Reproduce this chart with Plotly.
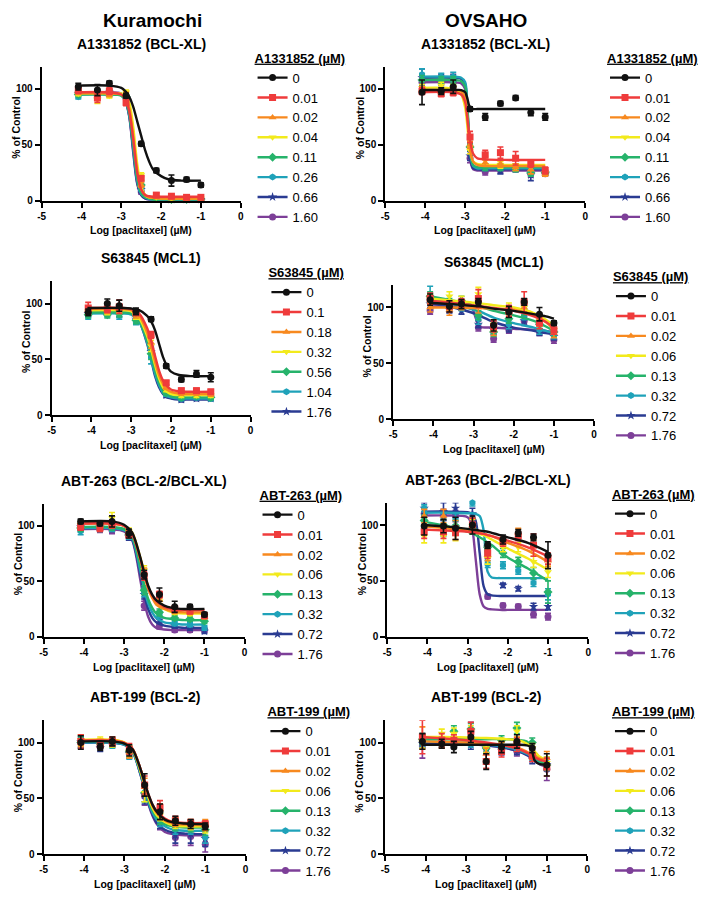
import plotly.graph_objects as go

# the page body keeps the browser's default 8px margin, so the figure is
# made 8px smaller and every pixel position below is given in page pixels
OFF = 8
FIG_W, FIG_H = 700, 892
FONT = 'Liberation Sans, Arial, sans-serif'


def px(x):
    return (x - OFF) / FIG_W


def py(y):
    return 1 - (y - OFF) / FIG_H


# log10 paclitaxel concentration (uM) of the measured points
LOG_PTX = [-4.08, -3.6, -3.3, -2.88, -2.5, -2.12, -1.74, -1.36, -1.0]

X_TICKS = [-5, -4, -3, -2, -1, 0]
X_TICK_LABELS = ['-5', '-4', '-3', '-2', '-1', '0']
Y_TICKS = [0, 50, 100]
Y_TICK_LABELS = ['0', '50', '100']

COLORS = ['#111111', '#ef3b3b', '#f7891f', '#f2ea1c', '#26b36b', '#1fa2b9', '#2a3b92', '#7d3f98']
SYMBOLS = ['circle', 'square', 'triangle-up', 'triangle-down', 'diamond', 'hexagon', 'star', 'circle']

# ---------------- Kuramochi / A1331852 ----------------
k_a13_doses = ['0', '0.01', '0.02', '0.04', '0.11', '0.26', '0.66', '1.60']
k_a13_mean = [
    [102, 99, 105, 94, 51, 27, 18, 19, 14],
    [99, 92, 98, 88, 20, 5, 4, 3, 3],
    [97, 94, 95, 95, 14, 3, 2, 2, 2],
    [96, 90, 94, 97, 23, 3, 2, 2, 2],
    [95, 95, 96, 93, 14, 2, 1, 1, 1],
    [93, 97, 95, 92, 11, 2, 1, 1, 1],
    [96, 96, 97, 92, 10, 2, 1, 1, 1],
    [98, 97, 97, 92, 8, 2, 1, 1, 1],
]
k_a13_sd = [
    [3, 5, 2, 2, 2, 2, 5, 2, 2],
    [3, 4, 3, 3, 2, 2, 1, 1, 1],
    [2, 3, 2, 2, 2, 1, 1, 1, 1],
    [2, 3, 2, 2, 2, 1, 1, 1, 1],
    [2, 2, 2, 2, 2, 1, 1, 1, 1],
    [2, 2, 2, 2, 2, 1, 1, 1, 1],
    [2, 2, 2, 2, 2, 1, 1, 1, 1],
    [2, 2, 2, 2, 2, 1, 1, 1, 1],
]
k_a13_fit_x = [-4.1, -3.3, -3.0, -2.9, -2.8, -2.7, -2.6, -2.5, -2.4, -2.3, -2.2, -2.0, -1.8, -1.5, -1.0]
k_a13_fit_y = [
    [103, 103, 101, 98, 93, 84, 71, 58, 45, 35, 28, 22, 19, 18, 18],
    [97, 97, 95, 91, 80, 55, 25, 10, 5, 4, 3.5, 3.5, 3.5, 3.5, 3.5],
    [96, 96, 95, 92, 83, 58, 27, 10, 5, 3, 2.5, 2, 2, 2, 2],
    [96, 96, 96, 94, 88, 66, 33, 13, 5, 3, 2.5, 2, 2, 2, 2],
    [95, 95, 94, 90, 78, 50, 20, 7, 3, 2, 1, 1, 1, 1, 1],
    [95, 95, 94, 90, 77, 48, 18, 6, 3, 1.5, 1, 1, 1, 1, 1],
    [96, 96, 95, 90, 76, 45, 16, 5, 2, 1, 1, 1, 1, 1, 1],
    [97, 97, 96, 90, 75, 43, 15, 5, 2, 1, 1, 1, 1, 1, 1],
]

# ---------------- OVSAHO / A1331852 ----------------
o_a13_doses = ['0', '0.01', '0.02', '0.04', '0.11', '0.26', '0.66', '1.60']
o_a13_mean = [
    [97, 98, 102, 82, 75, 87, 92, 79, 75],
    [98, 96, 97, 57, 41, 43, 38, 33, 27],
    [99, 97, 99, 50, 34, 33, 30, 28, 24],
    [101, 103, 101, 45, 36, 32, 30, 30, 25],
    [108, 108, 108, 48, 30, 30, 29, 25, 25],
    [113, 111, 111, 50, 30, 30, 30, 26, 25],
    [110, 110, 110, 40, 30, 27, 29, 23, 25],
    [106, 106, 106, 38, 26, 28, 29, 24, 24],
]
o_a13_sd = [
    [11, 3, 6, 2, 3, 2, 2, 3, 3],
    [3, 3, 3, 5, 4, 5, 6, 3, 3],
    [3, 3, 3, 3, 3, 3, 3, 4, 2],
    [3, 3, 3, 3, 4, 3, 3, 3, 2],
    [4, 3, 3, 3, 3, 3, 3, 3, 2],
    [5, 3, 4, 3, 3, 3, 3, 3, 2],
    [8, 3, 3, 4, 3, 3, 3, 5, 2],
    [3, 3, 3, 4, 3, 3, 3, 3, 2],
]
o_a13_fit_x = [-4.1, -3.3, -3.1, -3.0, -2.95, -2.9, -2.85, -2.8, -2.7, -2.5, -2.0, -1.0]
o_a13_fit_y = [
    [99, 99, 99, 97, 92, 85, 82.5, 82, 82, 82, 82, 82],
    [97, 97, 95, 88, 75, 60, 48, 42, 38, 37, 36.5, 36.5],
    [99, 99, 98, 92, 75, 52, 40, 35, 32, 31, 31, 31],
    [101, 100, 95, 83, 68, 50, 40, 35, 33, 32, 32, 32],
    [108, 108, 107, 102, 85, 55, 38, 32, 30, 30, 30, 30],
    [111, 111, 110, 106, 88, 55, 37, 31, 29, 29, 29, 29],
    [110, 110, 109, 104, 85, 50, 34, 29, 28, 28, 28, 28],
    [106, 106, 105, 100, 82, 48, 32, 28, 27, 27, 27, 27],
]

# ---------------- Kuramochi / S63845 ----------------
k_s63_doses = ['0', '0.1', '0.18', '0.32', '0.56', '1.04', '1.76']
k_s63_mean = [
    [92, 100, 98, 93, 86, 44, 32, 37, 34],
    [96, 95, 97, 92, 72, 29, 22, 22, 21],
    [94, 94, 95, 90, 65, 25, 20, 20, 19],
    [93, 93, 94, 89, 62, 23, 18, 18, 18],
    [90, 90, 91, 85, 55, 20, 16, 17, 16],
    [89, 91, 89, 84, 52, 19, 15, 16, 15],
    [91, 92, 91, 86, 57, 18, 14, 15, 15],
]
k_s63_sd = [
    [3, 4, 5, 3, 2, 2, 2, 3, 4],
    [5, 3, 6, 3, 3, 2, 2, 2, 2],
    [3, 3, 3, 3, 5, 2, 2, 2, 2],
    [3, 3, 3, 3, 5, 2, 2, 2, 2],
    [3, 3, 3, 3, 5, 2, 2, 2, 2],
    [3, 3, 3, 3, 6, 2, 2, 2, 2],
    [3, 3, 3, 3, 5, 2, 2, 2, 2],
]
k_s63_fit_x = [-4.1, -3.2, -3.0, -2.8, -2.6, -2.5, -2.4, -2.3, -2.2, -2.1, -2.0, -1.8, -1.5, -1.0]
k_s63_fit_y = [
    [96, 96, 95.5, 94, 89, 84, 76, 64, 52, 44, 39, 36, 35, 35],
    [96, 96, 95, 91, 78, 67, 53, 40, 31, 26, 23, 21.5, 21, 21],
    [95, 95, 94, 89, 74, 62, 48, 36, 28, 23, 21, 19.5, 19, 19],
    [94, 94, 93, 87, 71, 59, 45, 33, 25, 21, 19, 18, 18, 18],
    [92, 92, 91, 85, 67, 54, 40, 29, 22, 19, 17, 16, 16, 16],
    [91, 91, 90, 84, 65, 51, 37, 27, 20, 17, 16, 15, 15, 15],
    [92, 92, 91, 84, 64, 50, 35, 25, 19, 16, 15, 14, 14, 14],
]

# ---------------- OVSAHO / S63845 ----------------
o_s63_doses = ['0', '0.01', '0.02', '0.06', '0.13', '0.32', '0.72', '1.76']
o_s63_mean = [
    [107, 101, 103, 105, 84, 96, 105, 94, 86],
    [108, 101, 104, 108, 83, 97, 105, 86, 80],
    [100, 98, 102, 100, 80, 96, 100, 87, 77],
    [108, 110, 106, 112, 85, 100, 100, 88, 80],
    [110, 104, 106, 93, 78, 90, 97, 85, 78],
    [112, 100, 101, 90, 80, 85, 93, 80, 76],
    [103, 98, 97, 85, 80, 82, 88, 78, 74],
    [97, 100, 101, 82, 72, 80, 88, 78, 71],
]
o_s63_sd = [
    [5, 5, 4, 3, 5, 5, 3, 6, 2],
    [5, 5, 4, 8, 5, 5, 9, 5, 4],
    [4, 5, 4, 5, 5, 4, 4, 4, 4],
    [4, 4, 4, 6, 4, 4, 4, 4, 4],
    [4, 4, 4, 4, 4, 4, 4, 4, 4],
    [7, 4, 4, 5, 4, 4, 4, 4, 4],
    [4, 3, 3, 3, 4, 4, 4, 3, 3],
    [3, 3, 3, 3, 3, 3, 3, 3, 3],
]
o_s63_fit_x = [-4.1, -3.5, -3.05, -2.95, -2.85, -2.5, -2.0, -1.5, -1.2, -1.0]
o_s63_fit_y = [
    [104, 103, 101.5, 101.2, 101, 99, 97, 94, 92, 90],
    [106, 104, 102, 101.7, 101.4, 99.5, 97, 92, 87, 82],
    [100, 100, 99.5, 99.5, 99.5, 99, 98, 93, 87, 80],
    [108, 106, 104.5, 104, 103.7, 102, 100, 95, 89, 84],
    [110, 106, 102.5, 101.5, 100.5, 97, 93, 88, 83, 79],
    [108, 103, 98.5, 97.5, 96.5, 91, 86, 82, 79, 77],
    [104, 100, 95.5, 94, 92.5, 87, 82, 79, 77, 76],
    [101, 101, 100, 91, 83, 82, 81, 80, 79, 78],
]

# ---------------- Kuramochi / ABT-263 ----------------
k_263_doses = ['0', '0.01', '0.02', '0.06', '0.13', '0.32', '0.72', '1.76']
k_263_mean = [
    [104, 102, 104, 93, 56, 38, 27, 27, 20],
    [99, 98, 101, 92, 55, 38, 25, 23, 19],
    [100, 100, 101, 93, 58, 33, 23, 22, 18],
    [101, 100, 107, 95, 60, 32, 22, 21, 19],
    [98, 98, 99, 92, 42, 22, 17, 16, 14],
    [95, 99, 98, 91, 40, 20, 12, 11, 8],
    [99, 99, 98, 90, 38, 15, 10, 8, 5],
    [98, 97, 96, 90, 28, 10, 6, 6, 6],
]
k_263_sd = [
    [2, 2, 5, 4, 4, 6, 5, 2, 2],
    [3, 3, 3, 3, 4, 3, 2, 2, 2],
    [3, 3, 3, 3, 4, 3, 2, 2, 2],
    [3, 3, 5, 3, 4, 3, 2, 2, 2],
    [3, 3, 3, 3, 4, 3, 2, 2, 2],
    [3, 3, 3, 3, 4, 3, 2, 2, 2],
    [3, 3, 3, 3, 4, 3, 2, 2, 2],
    [3, 3, 3, 3, 4, 3, 2, 2, 2],
]
k_263_fit_x = [-4.1, -3.3, -3.0, -2.8, -2.6, -2.5, -2.4, -2.3, -2.2, -2.0, -1.8, -1.5, -1.0]
k_263_fit_y = [
    [104, 104, 101, 94, 72, 58, 46, 38, 33, 28, 26, 25, 25],
    [102, 102, 100, 93, 71, 57, 45, 37, 32, 27, 25, 24, 24],
    [102, 102, 100, 93, 70, 56, 43, 35, 29, 25, 23, 22, 22],
    [102, 102, 100, 94, 72, 58, 45, 36, 30, 25, 22, 21, 21],
    [99, 99, 97, 90, 64, 47, 34, 26, 21, 17, 16, 15, 15],
    [98, 98, 96, 89, 60, 43, 30, 22, 17, 13, 12, 11, 11],
    [98, 98, 96, 88, 57, 38, 25, 17, 13, 10, 9, 8, 8],
    [97, 97, 95, 87, 52, 32, 18, 11, 8, 6.5, 6, 6, 6],
]

# ---------------- OVSAHO / ABT-263 ----------------
o_263_doses = ['0', '0.01', '0.02', '0.06', '0.13', '0.32', '0.72', '1.76']
o_263_mean = [
    [99, 99, 97, 100, 82, 87, 93, 89, 73],
    [94, 94, 93, 100, 75, 85, 90, 82, 70],
    [108, 108, 98, 100, 73, 85, 93, 82, 68],
    [90, 90, 92, 99, 70, 80, 80, 67, 58],
    [104, 100, 99, 97, 80, 75, 67, 57, 40],
    [115, 100, 105, 120, 65, 64, 59, 48, 38],
    [115, 112, 115, 110, 80, 46, 43, 27, 27],
    [110, 109, 108, 105, 36, 28, 27, 20, 18],
]
o_263_sd = [
    [8, 6, 10, 8, 3, 4, 3, 3, 12],
    [6, 6, 6, 6, 5, 4, 4, 10, 5],
    [6, 6, 6, 6, 5, 4, 4, 5, 5],
    [6, 6, 6, 6, 5, 4, 4, 5, 5],
    [5, 5, 5, 5, 4, 4, 4, 5, 10],
    [3, 10, 5, 3, 3, 3, 3, 3, 5],
    [5, 8, 5, 5, 3, 2, 2, 3, 3],
    [5, 5, 5, 5, 2, 2, 2, 3, 3],
]
o_263_fit_x = [-4.1, -3.5, -3.0, -2.9, -2.8, -2.7, -2.6, -2.5, -2.4, -2.2, -2.0, -1.5, -1.0]
o_263_fit_y = [
    [100, 98.5, 96.5, 96, 95.5, 95, 94.5, 94, 93, 91, 89, 84, 76],
    [96, 95, 94, 93.5, 93, 92.5, 92, 91, 90, 88, 86, 80, 72],
    [99, 97, 95, 94.5, 94, 93, 92, 91, 90, 87, 84, 77, 67],
    [99, 97, 94.5, 94, 93, 92, 91, 89, 87, 83, 79, 70, 60],
    [103, 99, 94, 93, 91, 89, 87, 84, 82, 76, 71, 61, 50],
    [111, 111, 110.5, 110.5, 110, 108, 95, 58, 53, 52.5, 52.5, 52.5, 52.5],
    [112, 112, 111.5, 110, 104, 75, 45, 38, 37, 36.5, 36.5, 36.5, 36.5],
    [108.5, 108.5, 107, 100, 70, 38, 27, 25, 24.5, 24, 24, 24, 24],
]

# ---------------- Kuramochi / ABT-199 ----------------
k_199_doses = ['0', '0.01', '0.02', '0.06', '0.13', '0.32', '0.72', '1.76']
k_199_mean = [
    [100, 96, 101, 93, 62, 38, 30, 27, 25],
    [101, 98, 101, 94, 62, 42, 30, 28, 27],
    [102, 100, 101, 91, 60, 40, 29, 27, 26],
    [102, 102, 100, 92, 55, 35, 27, 26, 24],
    [100, 99, 100, 92, 55, 32, 25, 24, 22],
    [100, 98, 99, 90, 55, 30, 22, 22, 15],
    [101, 95, 100, 90, 53, 28, 17, 18, 14],
    [100, 97, 99, 91, 52, 27, 15, 16, 9],
]
k_199_sd = [
    [6, 3, 4, 5, 10, 7, 4, 4, 3],
    [6, 3, 4, 5, 8, 6, 4, 3, 3],
    [5, 3, 4, 5, 8, 5, 4, 4, 5],
    [5, 3, 4, 5, 8, 5, 4, 4, 5],
    [5, 3, 4, 5, 8, 5, 4, 4, 5],
    [5, 3, 4, 5, 8, 5, 4, 4, 5],
    [5, 3, 3, 4, 8, 5, 7, 8, 7],
    [5, 3, 3, 4, 8, 5, 7, 8, 7],
]
k_199_fit_x = [-4.1, -3.3, -3.0, -2.8, -2.6, -2.5, -2.4, -2.3, -2.2, -2.0, -1.8, -1.5, -1.0]
k_199_fit_y = [
    [101, 101, 99, 94, 76, 64, 53, 44, 38, 31, 28.5, 27.5, 27],
    [101.5, 101.5, 99.5, 94.5, 76, 64, 53, 44, 38, 32, 29, 28, 28],
    [102, 102, 100, 94.5, 76, 64, 52, 43, 37, 30, 27.5, 26.5, 26],
    [102.5, 102.5, 100, 94, 74, 62, 50, 41, 35, 29, 26, 25, 25],
    [101, 101, 99, 93, 73, 60, 48, 39, 33, 27, 25, 24, 24],
    [100, 100, 98, 92, 72, 59, 46, 37, 31, 25, 22, 21, 21],
    [100, 100, 98, 92, 71, 58, 45, 35, 28, 22, 19.5, 18.5, 18],
    [100, 100, 98, 92, 71, 57, 44, 34, 27, 20, 18, 17, 17],
]

# ---------------- OVSAHO / ABT-199 ----------------
o_199_doses = ['0', '0.01', '0.02', '0.06', '0.13', '0.32', '0.72', '1.76']
o_199_mean = [
    [101, 99, 96, 105, 83, 96, 101, 95, 80],
    [105, 102, 102, 110, 83, 92, 98, 88, 78],
    [104, 100, 102, 105, 90, 95, 100, 90, 86],
    [100, 108, 108, 110, 95, 100, 110, 95, 82],
    [103, 100, 110, 112, 95, 102, 113, 100, 80],
    [100, 100, 100, 100, 95, 96, 97, 88, 82],
    [99, 100, 99, 98, 95, 93, 93, 85, 80],
    [97, 99, 100, 110, 95, 93, 92, 87, 76],
]
o_199_sd = [
    [7, 4, 5, 5, 7, 5, 6, 4, 10],
    [15, 6, 5, 8, 6, 5, 6, 5, 8],
    [10, 5, 5, 5, 5, 5, 5, 5, 6],
    [5, 4, 5, 5, 4, 4, 5, 4, 5],
    [5, 4, 5, 5, 4, 4, 5, 4, 5],
    [4, 4, 4, 4, 4, 4, 4, 4, 5],
    [4, 4, 4, 4, 4, 4, 4, 4, 5],
    [11, 4, 5, 8, 4, 4, 4, 4, 10],
]
o_199_fit_x = [-4.1, -3.5, -3.0, -2.5, -2.0, -1.7, -1.5, -1.4, -1.3, -1.2, -1.0]
o_199_fit_y = [
    [98, 98, 98, 98, 98, 98, 97.5, 96, 84, 81, 80],
    [105, 103.5, 102, 100, 97, 94, 91, 89, 87, 85, 83],
    [101, 100.5, 100, 99, 97, 95, 92, 90, 88, 86, 84],
    [105, 105, 104.5, 104, 103, 102, 99, 96, 92, 88, 84],
    [103, 103, 103, 103, 103, 102.5, 101, 97, 90, 84, 80],
    [101, 100.5, 100, 98.5, 96, 93, 90, 88, 86, 83, 80],
    [99, 99, 98.5, 97.5, 95, 92, 89, 87, 85, 83, 80],
    [100, 99.5, 99, 97.5, 95, 92, 89, 87, 84, 81, 78],
]

# panel layout in page pixels: plot box (x0, x1, ytop, ybottom) and legend top-left
panels = [
    dict(title='A1331852 (BCL-XL)', drug='A1331852', doses=k_a13_doses, mean=k_a13_mean, sd=k_a13_sd,
         fit_x=k_a13_fit_x, fit_y=k_a13_fit_y, box=(38, 239, 67, 202), leg=(251, 46)),
    dict(title='A1331852 (BCL-XL)', drug='A1331852', doses=o_a13_doses, mean=o_a13_mean, sd=o_a13_sd,
         fit_x=o_a13_fit_x, fit_y=o_a13_fit_y, box=(385, 587, 67, 202), leg=(607, 46)),
    dict(title='S63845 (MCL1)', drug='S63845', doses=k_s63_doses, mean=k_s63_mean, sd=k_s63_sd,
         fit_x=k_s63_fit_x, fit_y=k_s63_fit_y, box=(48, 249, 283, 418), leg=(265, 262)),
    dict(title='S63845 (MCL1)', drug='S63845', doses=o_s63_doses, mean=o_s63_mean, sd=o_s63_sd,
         fit_x=o_s63_fit_x, fit_y=o_s63_fit_y, box=(393, 596, 287, 422), leg=(613, 266)),
    dict(title='ABT-263 (BCL-2/BCL-XL)', drug='ABT-263', doses=k_263_doses, mean=k_263_mean, sd=k_263_sd,
         fit_x=k_263_fit_x, fit_y=k_263_fit_y, box=(40, 243, 507, 641), leg=(256, 486)),
    dict(title='ABT-263 (BCL-2/BCL-XL)', drug='ABT-263', doses=o_263_doses, mean=o_263_mean, sd=o_263_sd,
         fit_x=o_263_fit_x, fit_y=o_263_fit_y, box=(387, 590, 506, 641), leg=(612, 485)),
    dict(title='ABT-199 (BCL-2)', drug='ABT-199', doses=k_199_doses, mean=k_199_mean, sd=k_199_sd,
         fit_x=k_199_fit_x, fit_y=k_199_fit_y, box=(40, 244, 725, 860), leg=(264, 704)),
    dict(title='ABT-199 (BCL-2)', drug='ABT-199', doses=o_199_doses, mean=o_199_mean, sd=o_199_sd,
         fit_x=o_199_fit_x, fit_y=o_199_fit_y, box=(385, 589, 725, 860), leg=(612, 704)),
]

fig = go.Figure()
layout = dict(
    width=FIG_W, height=FIG_H,
    margin=dict(l=0, r=0, t=0, b=0),
    paper_bgcolor='white', plot_bgcolor='white',
    font=dict(family=FONT, color='black'),
    annotations=[],
)


def label(text, x, y, size, angle=0):
    return dict(text=text, x=px(x), y=py(y), xref='paper', yref='paper', showarrow=False,
                xanchor='center', yanchor='middle', textangle=angle,
                font=dict(size=size, weight='bold'))


for k, p in enumerate(panels, start=1):
    sfx = '' if k == 1 else str(k)
    xa, ya = 'x' + sfx, 'y' + sfx
    leg = 'legend' + sfx
    x0, x1, yt, yb = p['box']

    axis_style = dict(
        showline=True, linewidth=2, linecolor='black',
        ticks='outside', ticklen=5, tickwidth=2, tickcolor='black',
        showgrid=False, zeroline=False, fixedrange=True,
        tickfont=dict(size=10, weight='bold'),
    )
    layout['xaxis' + sfx] = dict(domain=[px(x0), px(x1)], anchor=ya, range=[-5, 0],
                                 tickvals=X_TICKS, ticktext=X_TICK_LABELS, **axis_style)
    layout['yaxis' + sfx] = dict(domain=[py(yb), py(yt)], anchor=xa, range=[0, 120],
                                 tickvals=Y_TICKS, ticktext=Y_TICK_LABELS, **axis_style)
    lx, ly = p['leg']
    layout[leg] = dict(
        x=px(lx), y=py(ly), xanchor='left', yanchor='top',
        bgcolor='rgba(0,0,0,0)', borderwidth=0, tracegroupgap=0,
        font=dict(size=13),
        title=dict(text='<u>' + p['drug'] + ' (µM)</u>', font=dict(size=13, weight='bold')),
    )

    cx = (x0 + x1) / 2
    layout['annotations'] += [
        label(p['title'], cx, yt - 23, 14),
        label('Log [paclitaxel] (µM)', cx, yb + 30, 10.5),
        label('% of Control', x0 - 26, (yt + yb) / 2 - 6, 10.5, angle=-90),
    ]

    n = len(p['doses'])
    # highest dose first so the control series ends up on top
    for i in reversed(range(n)):
        c, s = COLORS[i], SYMBOLS[i]
        fig.add_trace(go.Scatter(
            x=p['fit_x'], y=p['fit_y'][i], mode='lines', xaxis=xa, yaxis=ya,
            line=dict(color=c, width=2.4, shape='spline', smoothing=0.8),
            showlegend=False, hoverinfo='skip', cliponaxis=False,
        ))
        fig.add_trace(go.Scatter(
            x=LOG_PTX, y=p['mean'][i], mode='markers', xaxis=xa, yaxis=ya,
            marker=dict(color=c, symbol=s, size=7, line=dict(width=0)),
            error_y=dict(type='data', array=p['sd'][i], color=c, thickness=1.6, width=3),
            showlegend=False, cliponaxis=False,
        ))
    for i in range(n):
        fig.add_trace(go.Scatter(
            x=[None], y=[None], mode='lines+markers', xaxis=xa, yaxis=ya,
            name=p['doses'][i], legend=leg,
            line=dict(color=COLORS[i], width=2.4),
            marker=dict(color=COLORS[i], symbol=SYMBOLS[i], size=7),
        ))

layout['annotations'] += [
    label('Kuramochi', 150, 21, 19),
    label('OVSAHO', 487, 21, 19),
]

fig.update_layout(**layout)
fig.write_html('out.html')
